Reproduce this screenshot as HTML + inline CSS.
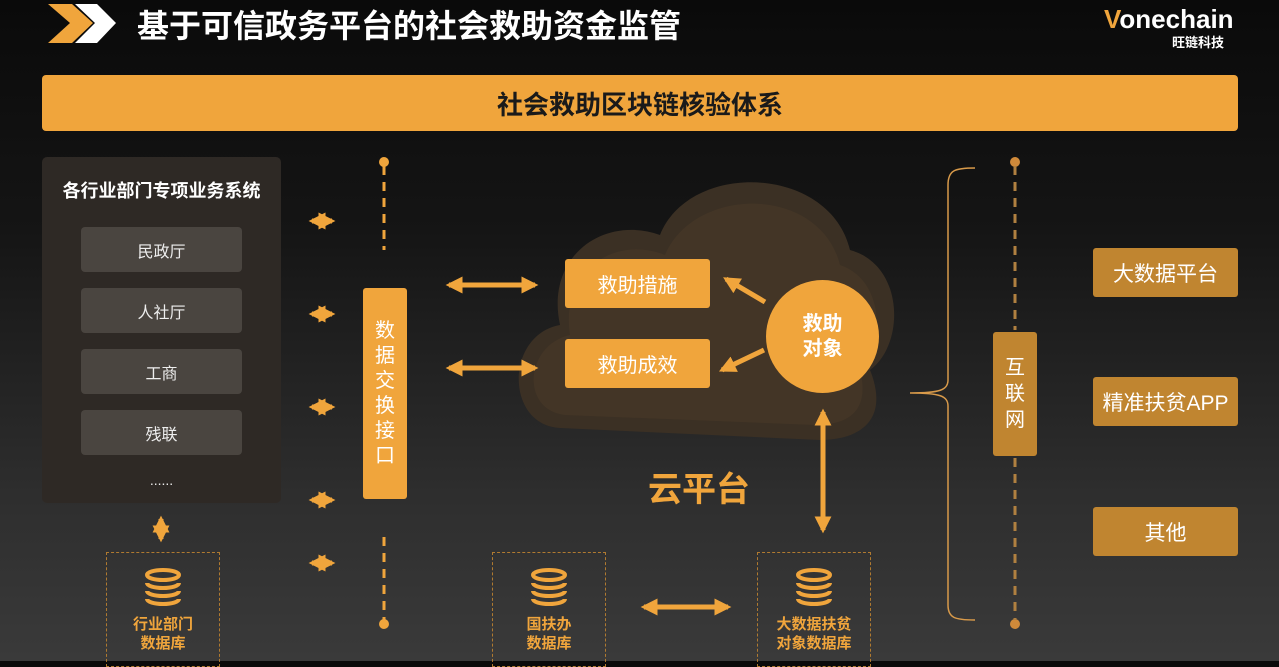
<!DOCTYPE html>
<html><head><meta charset="utf-8"><style>
*{margin:0;padding:0;box-sizing:border-box}
body{width:1279px;height:661px;overflow:hidden;position:relative;background:linear-gradient(#0a0a0a 0%,#151515 35%,#2e2e2e 75%,#3a3a3a 100%);font-family:"Liberation Sans","Noto Sans CJK SC",sans-serif}
.a{position:absolute}
.c{display:flex;align-items:center;justify-content:center;text-align:center}
.item{left:81px;width:161px;height:45px;background:#4a4540;border-radius:4px;color:#eee;font-size:16px}
.ob{background:#f0a53c;border-radius:3px;color:#fff;font-size:20px}
.rb{left:1093px;width:145px;height:49px;background:#c08530;border-radius:3px;color:#fff;font-size:21px}
.db{width:114px;height:115px;border:1.5px dashed #b07a30;color:#f0a53c;font-weight:bold;font-size:15px;line-height:19px}
</style></head><body>
<svg class="a" style="left:0;top:0" width="1279" height="661">
<polygon points="48,4 72,4 93,23 72,43 48,43 70,23" fill="#f0a53c"/>
<polygon points="75,4 97,4 116,23 97,43 75,43 95,23" fill="#fff"/>
<path d="M560,428 C505,425 505,335 560,325 C545,255 605,215 660,235 C690,160 830,165 850,250 C905,265 905,345 870,370 C890,420 860,440 820,440 Z" fill="#3b3024"/>
<path d="M565,415 C520,410 525,345 570,335 C560,270 615,235 665,255 C695,185 820,185 840,265 C885,280 885,345 860,370 C870,410 850,425 815,425 Z" fill="#4b3b28" opacity=".55"/>
<g fill="#f0a53c">
<circle cx="384" cy="162" r="5"/><circle cx="384" cy="624" r="5"/>
<circle cx="1015" cy="162" r="5" fill="#d08a3a"/><circle cx="1015" cy="624" r="5" fill="#d08a3a"/>
</g>
<g stroke="#f0a53c" stroke-width="3" stroke-dasharray="9,7">
<line x1="384" y1="166" x2="384" y2="250"/><line x1="384" y1="537" x2="384" y2="620"/>
<line x1="1015" y1="166" x2="1015" y2="330" stroke="#b08040"/><line x1="1015" y1="458" x2="1015" y2="620" stroke="#b08040"/>
</g>
<defs><marker id="h" viewBox="0 0 10 10" refX="8" refY="5" markerWidth="3.4" markerHeight="3.4" orient="auto-start-reverse"><path d="M0,0L10,5L0,10z" fill="#f0a53c"/></marker></defs>
<g stroke="#f0a53c" stroke-width="5" marker-start="url(#h)" marker-end="url(#h)">
<line x1="312" y1="221" x2="332" y2="221"/><line x1="312" y1="314" x2="332" y2="314"/><line x1="312" y1="407" x2="332" y2="407"/><line x1="312" y1="500" x2="332" y2="500"/><line x1="312" y1="563" x2="332" y2="563"/>
<line x1="449" y1="285" x2="535" y2="285"/><line x1="449" y1="368" x2="535" y2="368"/>
<line x1="823" y1="412" x2="823" y2="530"/>
<line x1="644" y1="607" x2="728" y2="607"/>
<line x1="161" y1="519" x2="161" y2="539"/>
</g>
<g stroke="#f0a53c" stroke-width="5" marker-end="url(#h)">
<line x1="765" y1="302" x2="726" y2="279"/><line x1="764" y1="350" x2="722" y2="370"/>
</g>
<path d="M975,168 C955,168 948,170 948,185 L948,380 C948,390 940,393 910,393 C940,393 948,396 948,406 L948,605 C948,618 955,620 975,620" fill="none" stroke="#d89a4a" stroke-width="1.5"/>
</svg>
<div class="a" style="left:137px;top:1px;color:#fff;font-size:32px;font-weight:bold">基于可信政务平台的社会救助资金监管</div>
<div class="a" style="left:1104px;top:4px;color:#fff;font-size:26px;font-weight:bold"><span style="color:#f0a53c">V</span>onechain</div>
<div class="a" style="left:1172px;top:32px;color:#fff;font-size:13px;font-weight:bold">旺链科技</div>
<div class="a c" style="left:42px;top:75px;width:1196px;height:56px;background:#f0a53c;border-radius:4px;color:#1a1a1a;font-size:26px;font-weight:bold">社会救助区块链核验体系</div>
<div class="a" style="left:42px;top:157px;width:239px;height:346px;background:#2e2925;border-radius:5px"></div>
<div class="a c" style="left:42px;top:177px;width:239px;color:#fff;font-size:18px;font-weight:bold">各行业部门专项业务系统</div>
<div class="a c item" style="top:227px">民政厅</div>
<div class="a c item" style="top:288px">人社厅</div>
<div class="a c item" style="top:349px">工商</div>
<div class="a c item" style="top:410px">残联</div>
<div class="a c" style="left:81px;top:472px;width:161px;color:#eee;font-size:14px">......</div>
<div class="a c ob" style="left:363px;top:288px;width:44px;height:211px;line-height:25px">数<br>据<br>交<br>换<br>接<br>口</div>
<div class="a c ob" style="left:565px;top:259px;width:145px;height:49px">救助措施</div>
<div class="a c ob" style="left:565px;top:339px;width:145px;height:49px">救助成效</div>
<div class="a c" style="left:766px;top:280px;width:113px;height:113px;border-radius:50%;background:#f0a53c;color:#fff;font-size:20px;font-weight:bold;line-height:25px">救助<br>对象</div>
<div class="a" style="left:648px;top:462px;color:#f0a53c;font-size:34px;font-weight:bold">云平台</div>
<div class="a c db" style="left:106px;top:552px;flex-direction:column"><svg width="40" height="44"><g fill="none" stroke="#f0a53c" stroke-width="4"><ellipse cx="20" cy="8" rx="16" ry="5"/><path d="M4,16 a16,5 0 0 0 32,0 M4,24 a16,5 0 0 0 32,0 M4,32 a16,5 0 0 0 32,0"/></g></svg><div style="margin-top:4px">行业部门<br>数据库</div></div>
<div class="a c db" style="left:492px;top:552px;flex-direction:column"><svg width="40" height="44"><g fill="none" stroke="#f0a53c" stroke-width="4"><ellipse cx="20" cy="8" rx="16" ry="5"/><path d="M4,16 a16,5 0 0 0 32,0 M4,24 a16,5 0 0 0 32,0 M4,32 a16,5 0 0 0 32,0"/></g></svg><div style="margin-top:4px">国扶办<br>数据库</div></div>
<div class="a c db" style="left:757px;top:552px;flex-direction:column"><svg width="40" height="44"><g fill="none" stroke="#f0a53c" stroke-width="4"><ellipse cx="20" cy="8" rx="16" ry="5"/><path d="M4,16 a16,5 0 0 0 32,0 M4,24 a16,5 0 0 0 32,0 M4,32 a16,5 0 0 0 32,0"/></g></svg><div style="margin-top:4px">大数据扶贫<br>对象数据库</div></div>
<div class="a c" style="left:993px;top:332px;width:44px;height:124px;background:#c08530;border-radius:3px;color:#fff;font-size:20px;line-height:26px">互<br>联<br>网</div>
<div class="a c rb" style="top:248px">大数据平台</div>
<div class="a c rb" style="top:377px">精准扶贫APP</div>
<div class="a c rb" style="top:507px">其他</div>
</body></html>
